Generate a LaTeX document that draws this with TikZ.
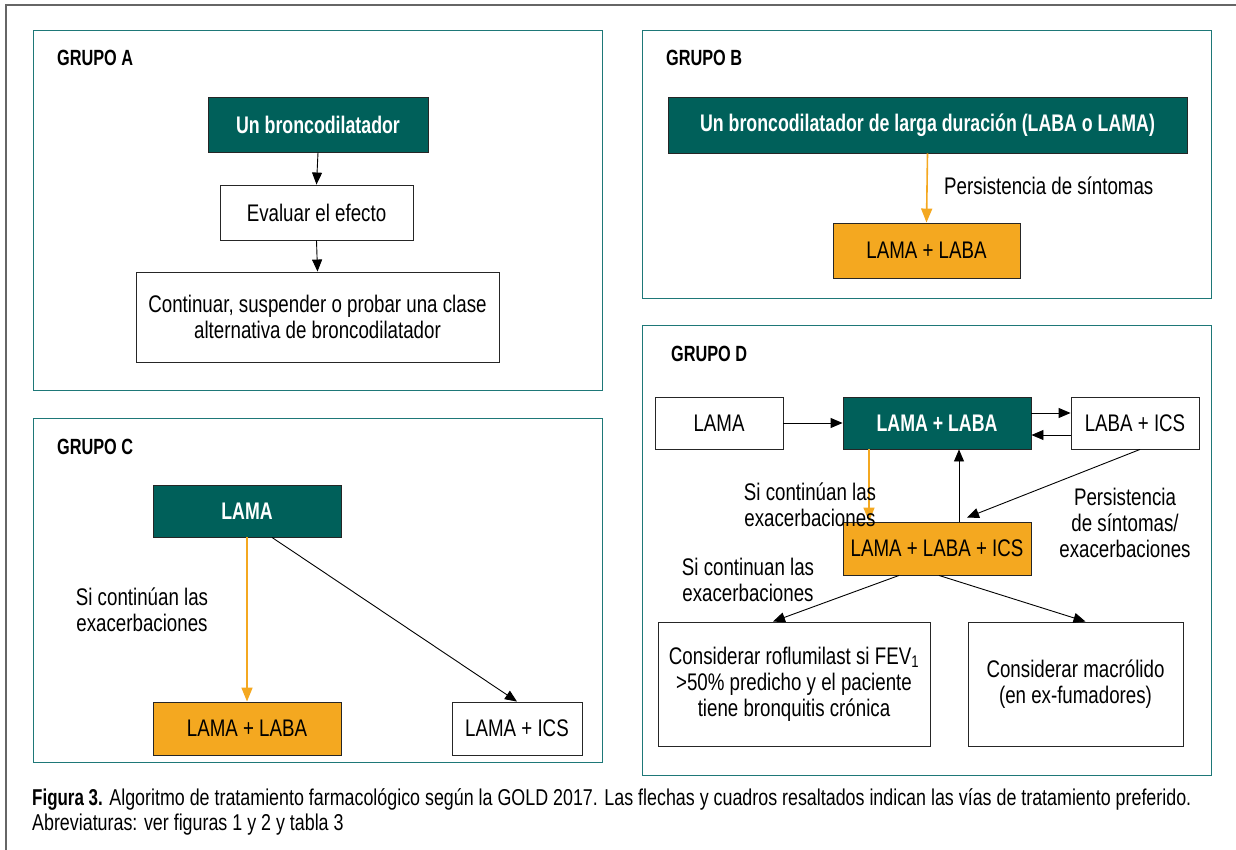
\documentclass[tikz,border=0pt]{standalone}
\usepackage{fontspec}
\setmainfont{Liberation Sans}[FakeStretch=0.78, BoldFeatures={FakeStretch=0.74}]
\usetikzlibrary{arrows.meta}
\definecolor{dteal}{RGB}{0,96,90}
\definecolor{gold}{RGB}{244,168,32}
\definecolor{frameteal}{RGB}{30,120,120}
\tikzset{
  body/.style={font=\fontsize{24}{26}\selectfont},
  box/.style={draw=black!85, line width=0.9pt, align=center, inner sep=0pt, body},
  darkbox/.style={box, fill=dteal, text=white, font=\fontsize{24}{26}\selectfont\bfseries},
  goldbox/.style={box, fill=gold},
  panel/.style={draw=frameteal, line width=0.9pt},
  grp/.style={anchor=west, font=\fontsize{22}{24}\selectfont\bfseries, inner sep=0pt},
  lbl/.style={align=center, body, inner sep=0pt},
  arr/.style={-{Triangle[length=12pt,width=10pt]}, line width=0.9pt, black},
  garr/.style={-{Triangle[length=14pt,width=11pt]}, line width=1.6pt, gold},
}
\begin{document}
\begin{tikzpicture}[x=1pt,y=-1pt]
\useasboundingbox (0,0) rectangle (1236,850);
% outer frame (top and left)
\draw[gray!80!black, line width=1.2pt] (1236,5) -- (6,5) -- (6,850);
% panels
\draw[panel] (33,30) rectangle (602,390);
\draw[panel] (642,30) rectangle (1211,298);
\draw[panel] (33,418) rectangle (602,762);
\draw[panel] (642,325) rectangle (1211,775);

% GRUPO A
\node[grp] (ga) at (57,58) {GRUPO A};
\node[darkbox, minimum width=220, minimum height=55] (a1) at (318,124.5) {Un broncodilatador};
\node[box, minimum width=193, minimum height=55] (a2) at (316.5,212.5) {Evaluar el efecto};
\node[box, minimum width=363, minimum height=90] (a3) at (317.5,317) {Continuar, suspender o probar una clase\\alternativa de broncodilatador};
\draw[arr] (a1.south) -- (a2.north);
\draw[arr] (a2.south) -- (a3.north);

% GRUPO B
\node[grp] (gb) at (666,58) {GRUPO B};
\node[darkbox, minimum width=519, minimum height=56] (b1) at (927.5,125) {Un broncodilatador de larga duración (LABA o LAMA)};
\node[goldbox, minimum width=187, minimum height=55] (b2) at (926.5,250.5) {LAMA + LABA};
\draw[garr] (b1.south) -- (b2.north);
\node[lbl, anchor=west] (bl) at (944,186) {Persistencia de síntomas};

% GRUPO C
\node[grp] (gc) at (57,447) {GRUPO C};
\node[darkbox, minimum width=188, minimum height=52] (c1) at (247,511) {LAMA};
\node[goldbox, minimum width=188, minimum height=53] (c2) at (247,728.5) {LAMA + LABA};
\node[box, minimum width=130, minimum height=53] (c3) at (517,728.5) {LAMA + ICS};
\draw[garr] (c1.south) -- (c2.north);
\draw[arr] ([xshift=25pt]c1.south) -- (c3.north);
\node[lbl] (cl) at (142,610) {Si continúan las\\exacerbaciones};

% GRUPO D
\node[grp] (gd) at (671,354) {GRUPO D};
\node[box, minimum width=128, minimum height=52] (d1) at (719,423) {LAMA};
\node[darkbox, minimum width=188, minimum height=52] (d2) at (937,423) {LAMA + LABA};
\node[box, minimum width=128, minimum height=52] (d3) at (1135,423) {LABA + ICS};
\node[goldbox, minimum width=188, minimum height=53] (d4) at (937,548.5) {LAMA + LABA + ICS};
\node[box, minimum width=272, minimum height=124] (d5) at (794,684) {Considerar roflumilast si FEV\textsubscript{1}\\>50\% predicho y el paciente\\tiene bronquitis crónica};
\node[box, minimum width=215, minimum height=124] (d6) at (1075.5,684) {Considerar macrólido\\(en ex-fumadores)};
\draw[arr] (d1.east) -- (d2.west);
\draw[arr] ([yshift=10pt]d2.east) -- ([yshift=10pt]d3.west);
\draw[arr] ([yshift=-12pt]d3.west) -- ([yshift=-12pt]d2.east);
\draw[garr] ([xshift=-68pt]d2.south) -- ([xshift=-68pt]d4.north);
\draw[arr] ([xshift=22pt]d4.north) -- ([xshift=22pt]d2.south);
\draw[arr] ([xshift=5pt]d3.south) -- ([xshift=30pt,yshift=4pt]d4.north);
\draw[arr] ([xshift=-38pt]d4.south) -- ([xshift=-21pt]d5.north);
\draw[arr] ([xshift=2pt]d4.south) -- ([xshift=10pt]d6.north);
\node[lbl] (dl1) at (810,505) {Si continúan las\\exacerbaciones};
\node[lbl] (dl2) at (1125,523) {Persistencia\\de síntomas/\\exacerbaciones};
\node[lbl] (dl3) at (748,580) {Si continuan las\\exacerbaciones};

% caption
\node[anchor=north west, align=left, inner sep=0pt, font=\fontsize{22.9}{25}\selectfont] (cap) at (32,788)
 {\textbf{Figura 3.} Algoritmo de tratamiento farmacológico según la GOLD 2017. Las flechas y cuadros resaltados indican las vías de tratamiento preferido.\\Abreviaturas: ver figuras 1 y 2 y tabla 3};
\end{tikzpicture}
\end{document}
